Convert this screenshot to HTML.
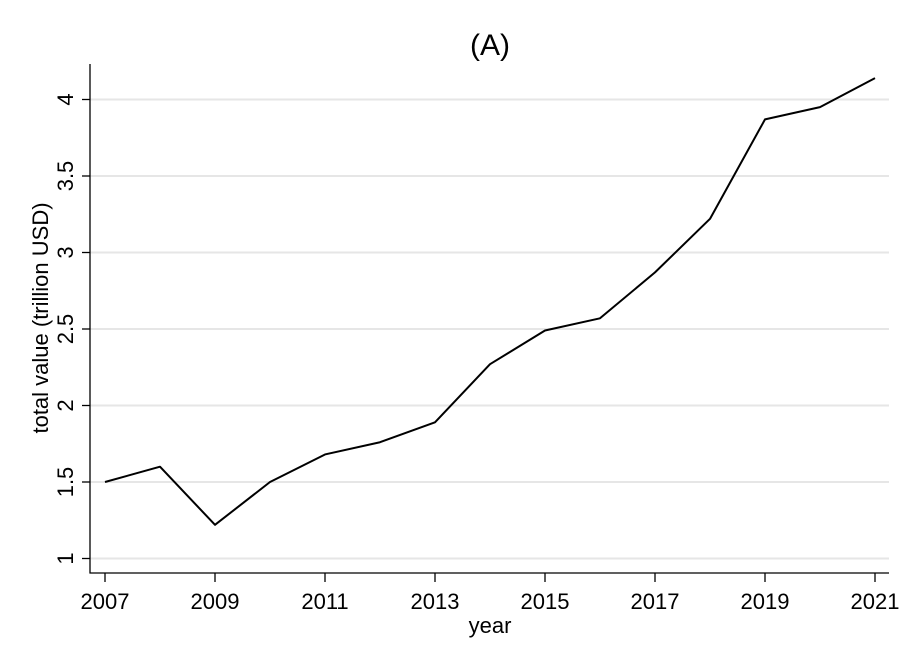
<!DOCTYPE html>
<html><head><meta charset="utf-8"><style>
body{margin:0;background:#fff;}
svg text{font-family:"Liberation Sans",sans-serif;fill:#000;}
</style></head><body>
<svg width="913" height="664" xmlns="http://www.w3.org/2000/svg" id="chart">
<rect width="913" height="664" fill="#fff"/>
<text x="490" y="55" font-size="30" text-anchor="middle">(A)</text>
<g id="grid"></g>
<g id="axes"></g>
<path id="line" fill="none" stroke="#000" stroke-width="2" stroke-linejoin="round"/>
<text x="490" y="633" font-size="22" text-anchor="middle">year</text>
<text transform="translate(48,318) rotate(-90)" font-size="22" text-anchor="middle">total value (trillion USD)</text>
</svg>
<script>
const years=[2007,2008,2009,2010,2011,2012,2013,2014,2015,2016,2017,2018,2019,2020,2021];
const values=[1.5,1.6,1.22,1.5,1.68,1.76,1.89,2.27,2.49,2.57,2.87,3.22,3.87,3.95,4.14];
const yTicks=[1,1.5,2,2.5,3,3.5,4];
const yTickLabels=["1","1.5","2","2.5","3","3.5","4"];
const xTicks=[2007,2009,2011,2013,2015,2017,2019,2021];
const xs=v=>105+(v-2007)*55;
const ys=v=>558.5-(v-1)*153;
const NS="http://www.w3.org/2000/svg";
const grid=document.getElementById('grid'),axes=document.getElementById('axes');
function mk(tag,attrs,parent){const e=document.createElementNS(NS,tag);for(const k in attrs)e.setAttribute(k,attrs[k]);parent.appendChild(e);return e;}
yTicks.forEach((t,i)=>{
 const g=mk('line',{x1:90,x2:889,y1:ys(t),y2:ys(t),stroke:'#e6e6e6','stroke-width':2},grid);
 
 
 const tk=mk('line',{x1:82,x2:90,y1:ys(t),y2:ys(t),stroke:'#000','stroke-width':1.3},axes);
 
 
 const tx=mk('text',{transform:`translate(73,${ys(t)}) rotate(-90)`,'font-size':22,'text-anchor':'middle'},axes);
 tx.textContent=yTickLabels[i];
 
 
});
xTicks.forEach(t=>{
 const tk=mk('line',{x1:xs(t),x2:xs(t),y1:573,y2:582,stroke:'#000','stroke-width':1.3},axes);
 
 
 const tx=mk('text',{x:xs(t),y:609,'font-size':22,'text-anchor':'middle'},axes);
 tx.textContent=t;
 
 
});
const ya=mk('line',{x1:90,x2:90,y1:64,y2:573.5,stroke:'#000','stroke-width':1.3},axes);


const xa=mk('line',{x1:89.5,x2:889,y1:573,y2:573,stroke:'#000','stroke-width':1.3},axes);


document.getElementById('line').setAttribute('d',years.map((y,i)=>(i?'L':'M')+xs(y)+','+ys(values[i])).join(' '));
</script>
</body></html>
